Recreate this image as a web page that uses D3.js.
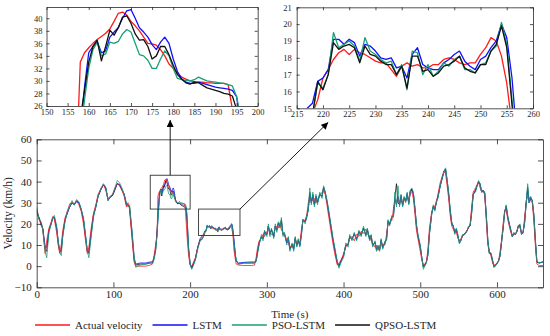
<!DOCTYPE html>
<html>
<head>
<meta charset="utf-8">
<script src="https://cdn.jsdelivr.net/npm/d3@7"></script>
<style>
	body { margin: 0; background: #fff; }
	text { font-family: "Liberation Serif", "Times New Roman", serif; fill: #262626; }
</style>
</head>
<body>
<svg id="chart" width="550" height="336"></svg>
<script>
// time axis of the main chart (s); the two zoomed windows are kept in their own arrays
var mainTime = [
	0,3,6,8,11,13,16,19,21,23,26,28,30,32,34,37,40,43,46,49,52,55,58,61,64,66,68,71,74,77,
	80,84,87,90,93,96,99,102,105,108,111,114,117,119,121,124,127,129,135,142,148,151,153,155,
	198,200,202,204,207,210,213,
	259,260,263,270,280,284,286,288,290,293,295,297,300,302,304,306,309,311,313,315,
	317,319,321,323,326,328,330,333,335,337,339,341,343,345,347,350,352,354,356,358,
	360,362,364,366,369,372,374,376,378,380,383,386,389,392,394,397,400,403,406,408,
	411,414,417,420,423,426,429,431,434,436,438,441,443,445,447,449,451,454,456,458,
	460,463,465,467,469,471,473,475,477,479,481,483,485,487,489,491,493,495,497,500,
	502,504,506,508,510,512,515,517,519,521,523,526,529,531,533,535,537,539,541,543,
	545,547,549,551,553,555,557,560,563,565,567,569,572,574,576,578,580,582,584,586,
	588,590,592,594,596,599,602,604,606,608,610,612,614,616,618,620,622,624,626,628,
	630,632,634,636,638,640,642,644,646,648,650,652,655,660
];

var actualMain = [
	27,22,20,17,6,12,18,21,23.5,22,16,10,6,10,17,23,26,29.5,30,29.5,31,29,26,20,11,6,9,18,25,29,
	34,37,38.5,36,32,33,34,37,39,38,36,33,28,30,27,14,2,0,0,0,0.5,1,5,10,
	5,0.5,0,1.5,4,9,12,
	3,1,0.5,0.3,0.3,0.5,4,9,12,13,15,14,16,17.5,16.5,15,15.5,18,19,18,
	20.5,17,16,14.5,13,11,9.5,9,10,12,11,11,11,17,21,22,24,30,32,32,
	31,32,30,32,33,35,36,34,30,25,18,11,5,0.5,1.5,3,6,9,11,13,
	14,12,15,14,16.5,15.5,17.5,15,14.5,12,11,9,10,7.5,9,11,10,10,15,20,
	21,21.5,27,30,31,32,30,31.5,29.5,31,32,33,31,35.5,35,32,25,17,13,7,
	3,0.5,1,2,8,18,26,27,28.5,30,34,39.5,43,44.5,44,38,32,24,19,17.5,
	17,16.5,13,12,13,14,15,16.5,18,20,28,35,37,38.5,39.5,37,35.5,35,34,22,
	10,7,5,2,0.5,1,2,7,12,20,26,27,22,19,16,14.5,15,15.5,16,19.5,
	18,16,15.5,23,30,33,32.5,31,30,22,10,1,0.3,0.3
];

var lstmMain = [
	25,23,19,18,9,9,17,20,23,23,18,12,7,8,15,22,25,28,30,29,30.5,30,27,22,13,7,7,16,24,28,
	33,36.5,38.5,37,31,33,33.5,36,39,38.5,36.5,34,29,29,28,17,4,1,1.5,1.5,2,2,4,8,
	8,1,-0.5,1,4,9,13,
	5,2.5,1.5,1.8,2,2,2.5,7,11,14,13,16,15,19,15,17,14,19,17,20,
	19,21,15,15,11,13,8,10,8,13,10,12,10,15,22,21,23,27,34,30,
	33,29,33,30,34,33,37,35,31,27,20,13,7,1,0,3,5,10,10,14,
	13,15,13,16,15,18,15,17,13,14,10,11,8,9,8,12,9,11,13,21,
	20,23,24,32,29,33,29,33,29,32,31,34,30,35,36,34,27,19,14,9,
	4,0,0.5,2,6,16,25,28,27,30,33,38,42.5,45,45.5,40,34,26,20,19,
	16,17.5,14,12,12.5,14.5,15,16,18.5,19,26,34,36,38,40,38.5,35,36,34.5,24,
	12,6.5,6,3,0,1,2.5,5,12,18,26,28,23,20,17,14,15.5,15,16.5,19,
	19,15.5,16,21,30,36,30,32,31,24,12,2,1.5,2
];

var psoMain = [
	28,22,21,17,7,4,16,20,23,24,19,12,7,5,14,21,26,28,31,29,31.5,30.5,27,23,14,7,4,14,23,28,
	33,37,39,37.5,31,33,34,37,40.5,39.5,37,34,30,28,29,18,5,-0.5,0.5,1,1.5,1.5,3,7,
	9,1,-1.5,0,3,8,12,
	6,3,1,1.5,1.5,1.5,2,6,10,15,12,17,14,20,14,18,13,20,16,21,
	18,23,14,16,10,14,7,11,7,14,9,13,9,14,22,20,24,26,37,29,
	35,28,34,29,35,32,38,35,32,28,21,14,8,2,-1,2,4,11,9,15,
	12,16,12,17,14,19,14,18,12,15,9,12,7,10,7,13,8,12,12,22,
	19,24,23,35,28,38,28,34,28,33,30,35,29,36,37,35,28,20,15,10,
	4,-1.5,0,1.5,5,15,25,29,26,31,32,38,42,45,46.5,41,35,27,21,19,
	15,18,15,10.5,12,15,14.5,16,19,19,25,34,35,38,40.5,39,35,36,35,25,
	13,6,6.5,3.5,-0.5,0.5,2.5,4.5,11,18,25,29,24,20,17.5,14,16,15,17,19,
	20,15,16,20,29,39,30,33,31,25,13,2.5,1.5,2
];

var qpsoMain = [
	26,23,20,17.5,8,7,17,20.5,23,23,18,11,7,7,15,22,25.5,28,30,29,31,30,26.5,22,13,7,6,15,24,28,
	33,36.5,38.5,37,31.5,32.5,33.5,36.5,39,38.5,36,34,29,29,28,16,3,0.5,1,1,1.5,1.5,4,8,
	8,1,-1,0.5,3.5,9,12.5,
	5,2.5,1,1.5,1.5,1.5,2.5,7,11,14,13,16.5,15,19,15,17.5,14,19,17,20.5,
	18.5,22,15,15.5,11,13.5,8,10.5,8,13.5,9.5,12.5,9.5,15,22,21,23.5,27,35,30,
	34,29,33,30,34,33,37.5,35,31.5,27,20,13,7,1.5,0,2.5,5,10,10,14,
	12.5,15.5,12.5,16.5,14.5,18,14.5,17.5,12.5,14.5,9.5,11.5,7.5,9.5,7.5,12.5,8.5,11.5,12.5,21.5,
	19.5,23.5,23.5,33,39,30,29,33.5,28.5,32.5,30.5,34.5,29.5,35.5,36.5,34.5,27.5,19.5,14.5,9.5,
	4,-0.5,0.5,2,5.5,15.5,25,28.5,26.5,30.5,32.5,38,42,45,46,40.5,34.5,26.5,20.5,19,
	15.5,17.5,14.5,11,12,14.5,15,16,18.5,19,25.5,34,35.5,38,40,39,35,36,34.5,24.5,
	12.5,6,6,3,-0.5,0.5,2.5,5,11.5,18,25.5,28.5,23.5,20,17,14,15.5,15,16.5,19,
	19.5,15,16,20.5,29.5,37.5,30,32.5,31,24.5,12.5,2,1.5,2
];

// first zoom window, one value per second from 156 s to 196 s
var zoom1Time = d3.range(156, 197);
var actualZoom1 = [12,15,33,34.5,35.3,36,36.6,37.1,37.6,38.3,39.5,40.8,41,40.5,39.5,38.8,38,37,36,35.9,
	35.7,35,34,32.7,32,31.3,30.6,30.3,30,29.9,29.8,29.8,29.7,29.7,29.6,29.6,29.6,29.4,25.5,20,14];
var lstmZoom1 = [12,17,22,29,34.5,35.5,36.3,34.5,34.8,37,37.8,38.5,40,41.2,41.4,40,38.5,37.8,37,35.8,
	35,36.2,37,36,33.5,31.5,30.3,29.8,29.6,29.6,29.8,29.6,29.4,29.2,29,28.9,28.8,28.7,28.5,27.5,23];
var psoZoom1 = [11,15,21,27,32,35,36.2,34,34.3,36.2,36,36.3,37.5,38.2,37.8,36,34.2,34,33.3,32,
	32,33.5,34.8,34,32,30.4,30.2,30.1,30,30.2,30.6,30.3,30,29.9,29.8,29.7,29.6,29.4,29.2,27.5,24];
var qpsoZoom1 = [12,17,24,28.5,33,35.5,36.5,33.2,35.5,38.1,37.3,38.5,40.2,40.4,39.2,37.5,36.5,36.6,35.5,33.5,
	34,35.5,35.5,34.2,32.5,31,30.3,29.7,29.5,29.8,29.7,29.3,28.9,28.7,28.5,28.3,28,27.9,27.6,25.5,21];

// second zoom window, one value per second from 215 s to 257 s
var zoom2Time = d3.range(215, 258);
var actualZoom2 = [13.3,13.8,14.2,14.7,15.5,16.8,17.3,17.9,18.3,18.5,18.2,18.5,18.3,18.2,18,17.8,17.7,17.7,17.3,16.9,
	17.5,17.7,17.5,17.6,17.4,17.4,17.6,17.6,17.9,18,17.9,17.7,17.6,17.7,17.7,18.2,18.6,19.2,19,18.1,
	16.5,14,8];
var lstmZoom2 = [14,14.5,15,15.3,16.6,16.8,17.3,19.1,19.1,18.8,19.1,18.9,18.1,18.8,18.7,18.4,18,17.9,18,17.4,
	17.5,16.8,18.2,18.6,17.6,17.4,17.3,17.3,17.7,17.9,18.2,18.4,17.8,17.5,17.3,17.9,18.1,18.6,19,20,
	19.2,16.8,13];
var psoZoom2 = [12.5,13,13.8,14.6,16.5,16.2,17,19.5,18.6,18.8,19,18.7,17.8,19.2,18.4,18.2,17.9,17.7,17.8,17,
	17.6,16.1,18.4,18.3,17,17.6,16.9,17.2,17.7,17.5,17.9,18.1,17.3,17.3,17.1,17.6,17.7,18.4,18.7,20.1,
	18.8,15.5,12];
var qpsoZoom2 = [12.5,13,13.8,14.6,16.6,16.1,17,18.9,18.5,18.7,18.8,18.6,17.7,18.7,18.2,18.1,17.8,17.6,17.6,17,
	17.5,16.2,18.1,18.1,17.2,17.3,16.9,17.1,17.5,17.6,17.8,18.1,17.4,17.2,17.1,17.6,17.6,18.4,18.8,19.9,
	18.6,15.2,12];

var seriesNames = ["Actual velocity", "LSTM", "PSO-LSTM", "QPSO-LSTM"];
var seriesColors = ["#ff1a1a", "#1010ff", "#17a078", "#111111"];
// the main chart stacks the lines in another order than the legend
var mainOrder = [3, 1, 0, 2];

var xTicksMain = d3.range(0, 601, 100);
var yTicksMain = d3.range(-10, 61, 10);
var xTicksZoom1 = d3.range(150, 201, 5);
var yTicksZoom1 = d3.range(26, 41, 2);
var xTicksZoom2 = d3.range(215, 261, 5);
var yTicksZoom2 = d3.range(15, 22, 1);

// marked windows on the main chart: [t0, t1, v0, v1]
var box1 = [148, 200, 27, 43];
var box2 = [211, 265, 14.5, 27];

function pairs(times, values) {
	return times.map(function(t, i) { return [t, values[i]]; });
}

var series = [
	{ zoom1: pairs(zoom1Time, actualZoom1), zoom2: pairs(zoom2Time, actualZoom2), main: pairs(mainTime, actualMain) },
	{ zoom1: pairs(zoom1Time, lstmZoom1), zoom2: pairs(zoom2Time, lstmZoom2), main: pairs(mainTime, lstmMain) },
	{ zoom1: pairs(zoom1Time, psoZoom1), zoom2: pairs(zoom2Time, psoZoom2), main: pairs(mainTime, psoMain) },
	{ zoom1: pairs(zoom1Time, qpsoZoom1), zoom2: pairs(zoom2Time, qpsoZoom2), main: pairs(mainTime, qpsoMain) }
];
series.forEach(function(s, i) {
	s.name = seriesNames[i];
	s.color = seriesColors[i];
	s.full = s.main.concat(s.zoom1, s.zoom2).sort(function(a, b) { return a[0] - b[0]; });
});

var svg = d3.select("#chart");
var axisColor = "#262626";

var defs = svg.append("defs");
defs.append("marker")
	.attr("id", "head")
	.attr("viewBox", "0 0 10 10")
	.attr("refX", 10).attr("refY", 5)
	.attr("markerUnits", "userSpaceOnUse")
	.attr("markerWidth", 8).attr("markerHeight", 7)
	.attr("orient", "auto")
	.append("path").attr("d", "M0,0L10,5L0,10z").attr("fill", "#000");

function drawFrame(g, x, y, xTicks, yTicks, opt) {
	var x0 = x.range()[0], x1 = x.range()[1], y0 = y.range()[0], y1 = y.range()[1];
	var fmt = d3.format("d");
	var parts = [
		g.append("g").attr("transform", "translate(0," + y0 + ")")
			.call(d3.axisBottom(x).tickValues(xTicks).tickFormat(fmt).tickSize(-opt.tick).tickSizeOuter(0).tickPadding(opt.xPad)),
		g.append("g").attr("transform", "translate(0," + y1 + ")")
			.call(d3.axisTop(x).tickValues(xTicks).tickSize(-opt.tick).tickSizeOuter(0).tickFormat("")),
		g.append("g").attr("transform", "translate(" + x0 + ",0)")
			.call(d3.axisLeft(y).tickValues(yTicks).tickFormat(fmt).tickSize(-opt.tick).tickSizeOuter(0).tickPadding(opt.yPad)),
		g.append("g").attr("transform", "translate(" + x1 + ",0)")
			.call(d3.axisRight(y).tickValues(yTicks).tickSize(-opt.tick).tickSizeOuter(0).tickFormat(""))
	];
	parts.forEach(function(p) {
		p.attr("font-family", null).attr("font-size", opt.font);
		p.selectAll("path, line").attr("stroke", axisColor).attr("stroke-width", 0.8);
		p.selectAll("text").attr("fill", axisColor);
	});
}

function drawLines(g, x, y, key, width, clipId, order) {
	var x0 = x.range()[0], x1 = x.range()[1], y0 = y.range()[0], y1 = y.range()[1];
	defs.append("clipPath").attr("id", clipId)
		.append("rect").attr("x", x0).attr("y", y1).attr("width", x1 - x0).attr("height", y0 - y1);
	var line = d3.line().x(function(d) { return x(d[0]); }).y(function(d) { return y(d[1]); });
	g.append("g").attr("clip-path", "url(#" + clipId + ")")
		.selectAll("path").data(order.map(function(i) { return series[i]; })).enter().append("path")
			.attr("d", function(d) { return line(d[key]); })
			.attr("fill", "none")
			.attr("stroke", function(d) { return d.color; })
			.attr("stroke-width", width)
			.attr("stroke-linejoin", "round");
}

// main chart
var mainX = d3.scaleLinear().domain([0, 660]).range([36.7, 543]);
var mainY = d3.scaleLinear().domain([-10, 60]).range([287.3, 139.3]);
var mainG = svg.append("g");
drawLines(mainG, mainX, mainY, "full", 0.8, "clipMain", mainOrder);
drawFrame(mainG, mainX, mainY, xTicksMain, yTicksMain, { tick: 5, xPad: 3, yPad: 5, font: 11 });

mainG.append("text")
	.attr("x", (mainX.range()[0] + mainX.range()[1]) / 2).attr("y", 317.5)
	.attr("text-anchor", "middle").attr("font-size", 11)
	.text("Time (s)");
mainG.append("text")
	.attr("transform", "translate(12," + (mainY.range()[0] + mainY.range()[1]) / 2 + ") rotate(-90)")
	.attr("text-anchor", "middle").attr("font-size", 11.5)
	.text("Velocity (km/h)");

// zoom boxes on the main chart
[box1, box2].forEach(function(b) {
	mainG.append("rect")
		.attr("x", mainX(b[0])).attr("y", mainY(b[3]))
		.attr("width", mainX(b[1]) - mainX(b[0])).attr("height", mainY(b[2]) - mainY(b[3]))
		.attr("fill", "none").attr("stroke", "#333").attr("stroke-width", 0.9);
});

// insets
var zoom1X = d3.scaleLinear().domain([150, 200]).range([46.5, 257.7]);
var zoom1Y = d3.scaleLinear().domain([26, 41.8]).range([106, 7]);
var zoom1G = svg.append("g");
drawLines(zoom1G, zoom1X, zoom1Y, "zoom1", 1.3, "clipZoom1", [0, 1, 2, 3]);
drawFrame(zoom1G, zoom1X, zoom1Y, xTicksZoom1, yTicksZoom1, { tick: 3, xPad: 3, yPad: 4, font: 8.5 });

var zoom2X = d3.scaleLinear().domain([215, 260]).range([296.7, 533]);
var zoom2Y = d3.scaleLinear().domain([15, 21]).range([108.3, 7.3]);
var zoom2G = svg.append("g");
drawLines(zoom2G, zoom2X, zoom2Y, "zoom2", 1.3, "clipZoom2", [0, 1, 2, 3]);
drawFrame(zoom2G, zoom2X, zoom2Y, xTicksZoom2, yTicksZoom2, { tick: 3, xPad: 3, yPad: 5, font: 8.5 });

// arrows from the boxes up to the insets
svg.append("line")
	.attr("x1", mainX((box1[0] + box1[1]) / 2)).attr("y1", mainY(box1[3]))
	.attr("x2", mainX((box1[0] + box1[1]) / 2)).attr("y2", zoom1Y.range()[0] + 14)
	.attr("stroke", "#000").attr("stroke-width", 0.9).attr("marker-end", "url(#head)");
svg.append("line")
	.attr("x1", mainX(box2[1])).attr("y1", mainY(box2[3]))
	.attr("x2", zoom2X(221)).attr("y2", zoom2Y.range()[0] + 14)
	.attr("stroke", "#000").attr("stroke-width", 0.9).attr("marker-end", "url(#head)");

// legend
var legend = svg.append("g").attr("transform", "translate(35,325)");
var lx = 0;
series.forEach(function(s) {
	var item = legend.append("g").attr("transform", "translate(" + lx + ",0)");
	item.append("line").attr("x1", 0).attr("x2", 35).attr("y1", 0).attr("y2", 0)
		.attr("stroke", s.color).attr("stroke-width", 1.3);
	var t = item.append("text").attr("x", 40).attr("y", 4).attr("font-size", 11).text(s.name);
	lx += 40 + t.node().getComputedTextLength() + 10;
});
</script>
</body>
</html>
